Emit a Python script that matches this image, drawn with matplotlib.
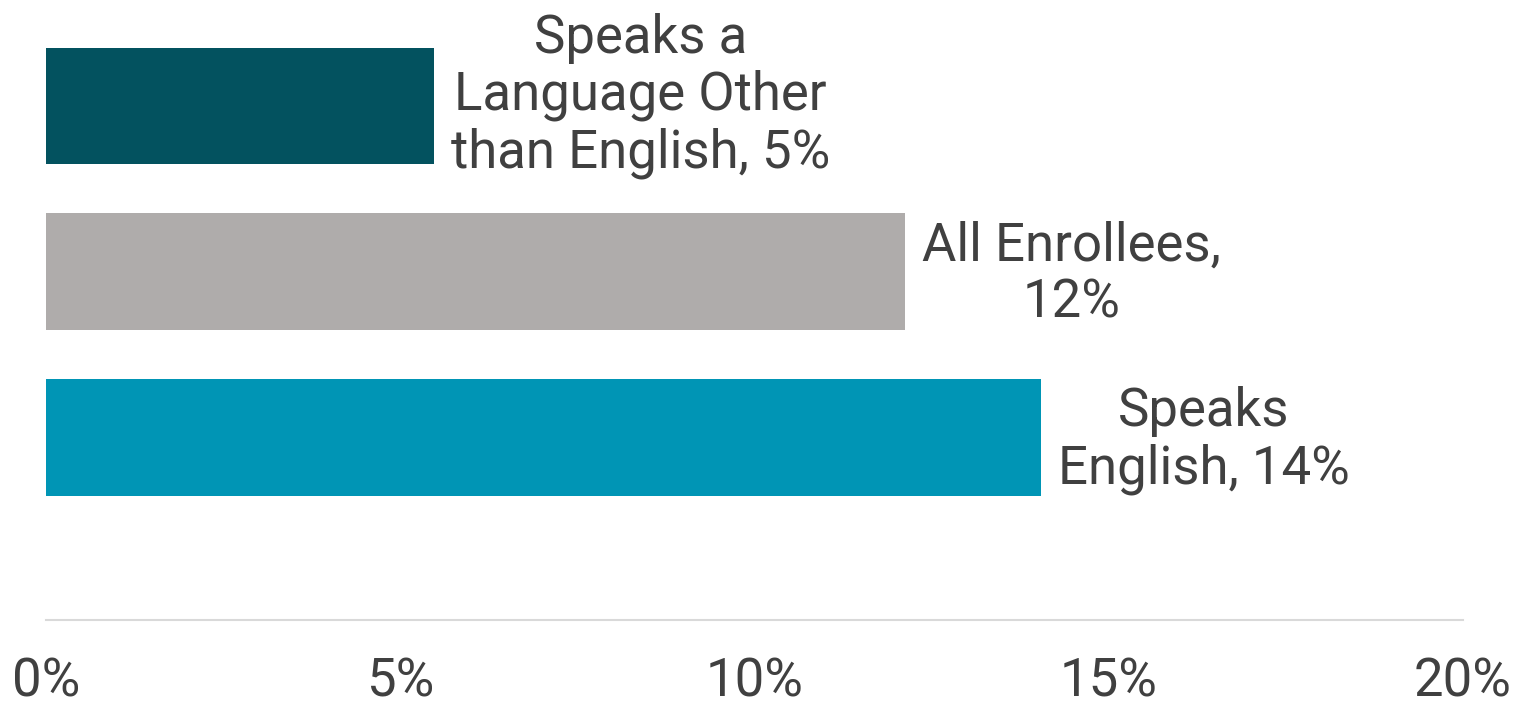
import matplotlib
matplotlib.use('Agg')
import matplotlib.pyplot as plt
import matplotlib.ticker as tck

# Datos
etiquetas = ['Speaks a\nLanguage Other\nthan English, 5%', 'All Enrollees,\n12%', 'Speaks\nEnglish, 14%']
valores = [5.48, 12.13, 14.05]
colores = ['#03525F', '#AFACAB', '#0095B5']
xticks = [0, 5, 10, 15, 20]

plt.rcParams['font.family'] = ['Roboto', 'DejaVu Sans']
texto = '#404040'

fig = plt.figure(figsize=(15.19, 7.07), dpi=100)
ax = fig.add_axes([46 / 1519, 1 - 620 / 707, (1463 - 46) / 1519, (620 - 21) / 707])

pos = list(range(len(valores)))
bars = ax.barh(pos, valores, height=0.7, color=colores)

for i, (b, lab) in enumerate(zip(bars, etiquetas)):
    dy = 7 if i == 0 else -2  # la primera etiqueta va un poco mas arriba
    ax.annotate(lab, (b.get_width(), b.get_y() + b.get_height() / 2),
                xytext=(12, dy), textcoords='offset points',
                ha='left', va='center', multialignment='center',
                fontsize=38, color=texto, linespacing=1.16)

ax.set_xlim(0, 20)
ax.set_ylim(3.1, -0.51)
ax.set_xticks(xticks)
ax.xaxis.set_major_formatter(tck.FuncFormatter(lambda v, p: f'{v:.0f}%'))
ax.tick_params(axis='x', length=0, pad=26, labelsize=38, labelcolor=texto)
ax.set_yticks([])
for s in ['top', 'right', 'left']:
    ax.spines[s].set_visible(False)
ax.spines['bottom'].set_color('#D9D9D9')
ax.spines['bottom'].set_linewidth(1.5)

fig.savefig('out.png', dpi=100)
